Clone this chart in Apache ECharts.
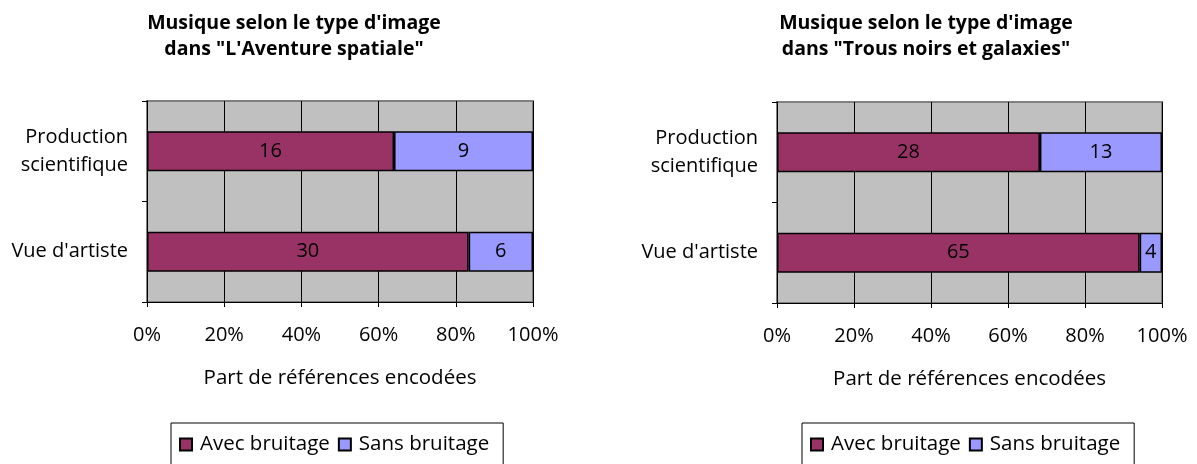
<!DOCTYPE html>
<html>
<head>
<meta charset="utf-8">
<script src="https://cdn.jsdelivr.net/npm/echarts@6/dist/echarts.min.js"></script>
<style>
  html, body { margin: 0; padding: 0; background: #fff; }
  #chart { width: 1197px; height: 464px; }
</style>
</head>
<body>
<div id="chart"></div>
<script>
// Image types, top to bottom
const categories = ['Production\nscientifique', "Vue d'artiste"];
const seriesNames = ['Avec bruitage', 'Sans bruitage'];

// "L'Aventure spatiale": number of encoded references
const aventureAvec = [16, 30];
const aventureSans = [9, 6];

// "Trous noirs et galaxies": number of encoded references
const trousAvec = [28, 65];
const trousSans = [13, 4];

const xTicks = [0, 20, 40, 60, 80, 100];
const titles = [
  "Musique selon le type d'image\ndans \"L'Aventure spatiale\"",
  "Musique selon le type d'image\ndans \"Trous noirs et galaxies\""
];
const xAxisTitle = 'Part de références encodées';

const FONT = '"Open Sans"';
const FS = 20;
const colors = ['#993366', '#9999FF'];

// Share (%) of each count within its category row
function share(part, a, b) {
  return part.map((v, i) => ({ value: v / (a[i] + b[i]) * 100, count: v }));
}

const grids = [
  { left: 147, right: 664, top: 101, bottom: 162 },
  { left: 777, right: 35, top: 102, bottom: 161 }
];

function xAxis(idx) {
  return {
    type: 'value', gridIndex: idx, min: xTicks[0], max: xTicks[xTicks.length - 1], interval: 20,
    axisLine: { show: true, lineStyle: { color: '#000', width: 1 } },
    axisTick: { show: true, length: 5, lineStyle: { color: '#000' } },
    axisLabel: { formatter: '{value}%', color: '#000', fontFamily: FONT, fontSize: FS, margin: 23 },
    splitLine: { show: true, lineStyle: { color: '#000', width: 1 } },
    name: xAxisTitle, nameLocation: 'middle', nameGap: 66,
    nameTextStyle: { color: '#000', fontFamily: FONT, fontSize: 20.5 }
  };
}

function yAxis(idx) {
  return {
    type: 'category', gridIndex: idx, data: categories, inverse: true,
    axisLine: { show: true, lineStyle: { color: '#000', width: 1 } },
    axisTick: { show: true, length: 5, lineStyle: { color: '#000' } },
    axisLabel: { color: '#000', fontFamily: FONT, fontSize: FS, lineHeight: 28, margin: 19, align: 'right' },
    splitLine: { show: false }
  };
}

function barSeries(name, data, idx, color) {
  return {
    name: name, type: 'bar', stack: 'g' + idx, xAxisIndex: idx, yAxisIndex: idx,
    data: data, barWidth: '40%',
    itemStyle: { color: color, borderColor: '#000', borderWidth: 1.5 },
    label: {
      show: true, position: 'inside', color: '#000', fontFamily: FONT, fontSize: FS,
      formatter: p => String(p.data.count)
    },
    emphasis: { disabled: true }
  };
}

function legend(left) {
  return {
    left: left, top: 423, data: seriesNames,
    icon: 'rect', itemWidth: 12, itemHeight: 12, itemGap: 8,
    borderColor: '#000', borderWidth: 1, padding: [11, 14, 20, 8],
    textStyle: { color: '#000', fontFamily: FONT, fontSize: 20.5, padding: [0, 0, 0, 3] },
    selectedMode: false
  };
}

const titleStyle = { fontFamily: FONT, fontWeight: 'bold', fontSize: 19.5, lineHeight: 26, color: '#000' };

const chart = echarts.init(document.getElementById('chart'), null, { renderer: 'canvas' });
chart.setOption({
  animation: false,
  backgroundColor: '#fff',
  title: [
    { text: titles[0], left: 289, top: 5, textAlign: 'center', textStyle: titleStyle },
    { text: titles[1], left: 921, top: 5, textAlign: 'center', textStyle: titleStyle }
  ],
  grid: grids.map(g => Object.assign({
    show: true, backgroundColor: '#C0C0C0', borderColor: '#808080', borderWidth: 2
  }, g)),
  xAxis: [xAxis(0), xAxis(1)],
  yAxis: [yAxis(0), yAxis(1)],
  legend: [legend(171), legend(802)],
  series: [
    barSeries(seriesNames[0], share(aventureAvec, aventureAvec, aventureSans), 0, colors[0]),
    barSeries(seriesNames[1], share(aventureSans, aventureAvec, aventureSans), 0, colors[1]),
    barSeries(seriesNames[0], share(trousAvec, trousAvec, trousSans), 1, colors[0]),
    barSeries(seriesNames[1], share(trousSans, trousAvec, trousSans), 1, colors[1])
  ]
});
</script>
</body>
</html>
